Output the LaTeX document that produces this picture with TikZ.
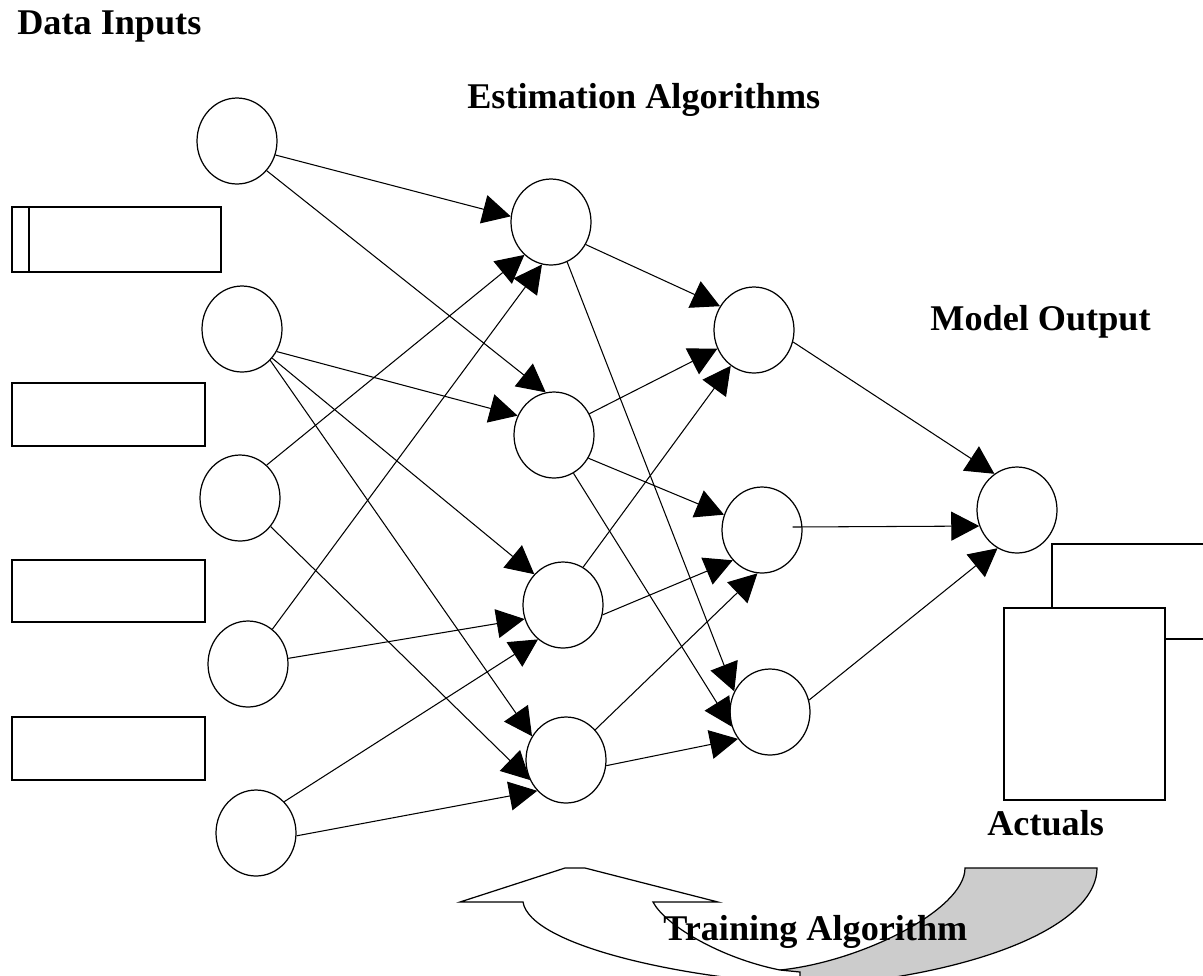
\documentclass[tikz,border=0pt]{standalone}
\usepackage{fontspec}
\setmainfont{Liberation Serif}
\usetikzlibrary{shapes.geometric,arrows.meta}
\tikzset{
  neuron/.style={ellipse,draw,line width=0.7pt,minimum width=1.6cm,minimum height=1.72cm,inner sep=0pt,fill=white},
  inbox/.style={rectangle,draw,line width=1.2pt,inner sep=0pt,outer sep=0pt},
  arr/.style={line width=0.6pt,-{Triangle[length=0.56cm,width=0.58cm]}},
  lbl/.style={anchor=base west,inner sep=0pt,font=\bfseries\fontsize{20.6}{24}\selectfont},
}
\begin{document}
\begin{tikzpicture}[x=0.02cm,y=-0.02cm]
\useasboundingbox (0,0) rectangle (1203,975);
\clip (0,0) rectangle (1203,975);

% labels
\node[lbl] (tData) at (17,34) {Data Inputs};
\node[lbl] (tEst) at (467,108) {Estimation Algorithms};
\node[lbl] (tModel) at (930,330) {Model Output};

% input boxes
\node[inbox,minimum width=4.18cm,minimum height=1.3cm] (R1) at (116.5,239.5) {};
\draw[line width=1.2pt] ([xshift=0.34cm]R1.north west) -- ([xshift=0.34cm]R1.south west);
\node[inbox,minimum width=3.86cm,minimum height=1.26cm] (R2) at (108.5,414.5) {};
\node[inbox,minimum width=3.86cm,minimum height=1.24cm] (R3) at (108.5,591) {};
\node[inbox,minimum width=3.86cm,minimum height=1.26cm] (R4) at (108.5,748.5) {};

% neurons
\node[neuron] (I1) at (237,141) {};
\node[neuron] (I2) at (242,329) {};
\node[neuron] (I3) at (240,498) {};
\node[neuron] (I4) at (248,664) {};
\node[neuron] (I5) at (256,833) {};
\node[neuron] (H1) at (551,222) {};
\node[neuron] (H2) at (554,435) {};
\node[neuron] (H3) at (563,605) {};
\node[neuron] (H4) at (566,760) {};
\node[neuron] (K1) at (754,330) {};
\node[neuron] (K2) at (762,530) {};
\node[neuron] (K3) at (770,712) {};
\node[neuron] (O) at (1017,510) {};

% connections
\draw[arr] (I1.-20) -- (H1.172);
\draw[arr] (I1.-45) -- (H2.101);
\draw[arr] (I2.-33) -- (H2.152);
\draw[arr] (I2.-44) -- (H3.133);
\draw[arr] (I2.-48) -- (H4.145);
\draw[arr] (I3.51) -- (H1.231);
\draw[arr] (I3.-43) -- (H4.209);
\draw[arr] (I4.55) -- (H1.258);
\draw[arr] (I4.8) -- (H3.200);
\draw[arr] (I5.48) -- (H3.234);
\draw[arr] (I5.-4) -- (H4.227);
\draw[arr] (H1.-33) -- (K1.145);
\draw[arr] (H1.-68) -- (K3.150);
\draw[arr] (H2.31) -- (K1.207);
\draw[arr] (H2.-34) -- (K2.158);
\draw[arr] (H2.-63) -- (K3.201);
\draw[arr] (H3.62) -- (K1.237);
\draw[arr] (H3.-14) -- (K2.226);
\draw[arr] (H4.46) -- (K2.264);
\draw[arr] (H4.-8) -- (K3.220);
\draw[arr] (K1.-17) -- (O.122);
\draw[arr] ([xshift=-0.2cm,yshift=0.06cm]K2.east) -- (O.203);
\draw[arr] (K3.17) -- (O.243);

% actuals boxes
\node[inbox,minimum width=3.22cm,minimum height=3.84cm] (A) at (1084.5,704) {};
\coordinate (Bc) at (1215,544);
\coordinate (Bd) at (1215,639);
\draw[line width=1.2pt] ([xshift=0.96cm]A.north west) |- (Bc);
\draw[line width=1.2pt] (A.east |- Bd) -- (Bd);
\node[lbl] (tAct) at (987,835) {Actuals};

% training algorithm curved arrow
\draw[line width=0.7pt,fill=black!20] (965,868) -- (1097,868)
  .. controls (1097,920) and (1000,965) .. (860,982) -- (780,982) -- (780,970)
  .. controls (860,962) and (965,910) .. (965,868) -- cycle;
\draw[line width=0.7pt,fill=white] (523,902)
  .. controls (530,945) and (680,978) .. (800,984) -- (800,972) -- (780,970)
  .. controls (720,958) and (665,925) .. (653,902)
  -- (718,902) -- (585,868) -- (565,868) -- (460,902) -- cycle;
\node[lbl] (tTrain) at (663,940) {Training Algorithm};
\end{tikzpicture}
\end{document}
